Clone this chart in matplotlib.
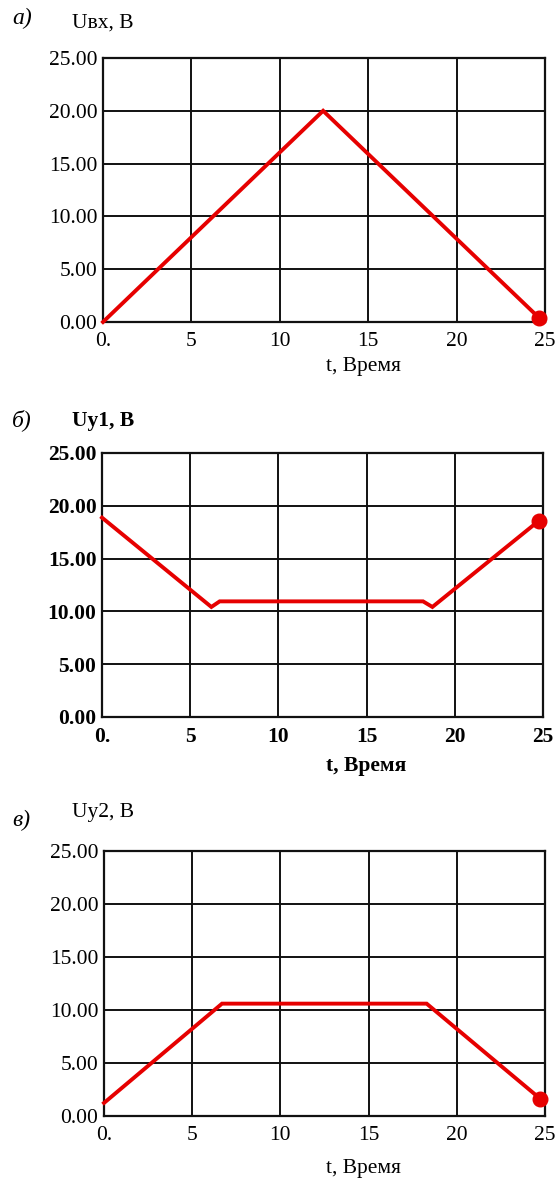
import matplotlib
matplotlib.use('Agg')
import matplotlib.pyplot as plt

# --- DATA ---
t_in = [0.0, 12.45, 24.66]
u_in = [0.0, 20.0, 0.4]

t_y1 = [0.0, 6.2, 6.67, 18.2, 18.73, 24.75]
u_y1 = [18.88, 10.42, 10.95, 10.95, 10.42, 18.56]

t_y2 = [0.0, 6.69, 18.29, 24.72]
u_y2 = [1.23, 10.6, 10.6, 1.64]

x_ticks = [0, 5, 10, 15, 20, 25]
x_tick_labels = ["0.", "5", "10", "15", "20", "25"]
y_ticks = [0, 5, 10, 15, 20, 25]

letters = ["а)", "б)", "в)"]
titles = ["Uвх, B", "Uy1, B", "Uy2, B"]
xlabel = "t, Время"

# --- LAYOUT (pixels of a 560x1180 picture) ---
W, H = 560, 1180
RED = '#e60000'
SERIF = ['Liberation Serif', 'DejaVu Serif']

plt.rcParams['font.family'] = SERIF

fig = plt.figure(figsize=(W / 100, H / 100), dpi=100, facecolor='white')


def fx(px):
    return px / W


def fy(py):
    return 1 - py / H


# (left, top, right, bottom) of each plot box, letter y, title y, xlabel y, bold?
panels = [
    ((103, 58, 545, 322), 18, 23, 367, False, t_in, u_in),
    ((102, 453, 543, 717), 420, 421, 766, True, t_y1, u_y1),
    ((104, 851, 545, 1116), 820, 812, 1168, False, t_y2, u_y2),
]

for i, (box, ly, ty, xly, bold, xs, ys) in enumerate(panels):
    l, t, r, b = box
    ax = fig.add_axes([fx(l), fy(b), fx(r - l), (b - t) / H])
    ax.set_xlim(0, 25)
    ax.set_ylim(0, 25)
    weight = 'bold' if bold else 'normal'

    ax.set_xticks(x_ticks)
    ax.set_xticklabels(x_tick_labels, fontsize=15.5, fontweight=weight)
    ax.set_yticks(y_ticks)
    ax.set_yticklabels(["%.2f" % v for v in y_ticks], fontsize=15.5, fontweight=weight)
    ax.tick_params(length=0, pad=4)
    ax.tick_params(axis='x', pad=7)

    ax.grid(True, color='#111111', linewidth=1.4)
    ax.set_axisbelow(True)
    for sp in ax.spines.values():
        sp.set_color('#111111')
        sp.set_linewidth(1.6)

    ax.plot(xs, ys, color=RED, linewidth=2.8, solid_joinstyle='miter', clip_on=False, zorder=3)
    ax.plot(xs[-1], ys[-1], 'o', color=RED, markersize=10.5, clip_on=False, zorder=4)

    fig.text(fx(12), fy(ly), letters[i], fontsize=17, style='italic', va='center', ha='left')
    fig.text(fx(72), fy(ty), titles[i], fontsize=15.5, fontweight=weight, va='center', ha='left')
    fig.text(fx(326), fy(xly), xlabel, fontsize=15.5, fontweight=weight, va='center', ha='left')

fig.savefig('out.png', dpi=100, facecolor='white')
